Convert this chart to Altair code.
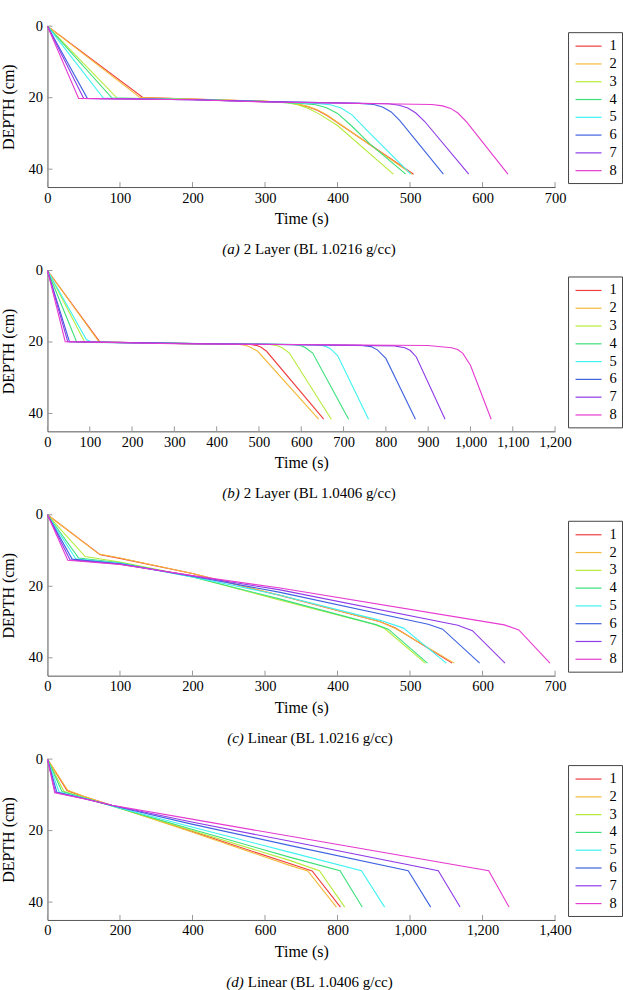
import altair as alt
import pandas as pd

SERIES = ["1", "2", "3", "4", "5", "6", "7", "8"]
COLORS = ["#f03c3c", "#f5b93a", "#b5eb3a", "#3ae07a", "#3ef2f2", "#3f63e0", "#8f3ae8", "#e63ad0"]

# panel (a): 2 Layer (BL 1.0216 g/cc) -- series: (time s, depth cm)
A = {
    "1": ([0, 132, 200, 300, 330, 345, 360, 372, 385, 505], [0, 20, 20.4, 21, 21.3, 21.8, 22.6, 23.5, 24.9, 41.4]),
    "2": ([0, 128, 200, 300, 330, 345, 360, 372, 385, 503], [0, 20, 20.4, 21, 21.3, 21.8, 22.5, 23.4, 24.8, 41.4]),
    "3": ([0, 96, 200, 300, 330, 345, 360, 375, 400, 477], [0, 20.1, 20.5, 21, 21.4, 22, 23, 24.6, 27.8, 41.4]),
    "4": ([0, 89, 200, 300, 350, 370, 385, 400, 420, 445, 494], [0, 20.1, 20.5, 21.1, 21.6, 22, 22.8, 24.4, 28, 33, 41.4]),
    "5": ([0, 77, 200, 300, 370, 390, 405, 420, 440, 501], [0, 20.1, 20.5, 21.1, 21.6, 22, 22.9, 24.8, 29, 41.4]),
    "6": ([0, 55, 200, 300, 430, 450, 462, 474, 486, 546], [0, 20.2, 20.6, 21.1, 21.6, 21.9, 22.6, 24, 26.4, 41.4]),
    "7": ([0, 50, 200, 300, 470, 485, 497, 508, 520, 581], [0, 20.2, 20.6, 21.1, 21.7, 22.1, 22.9, 24.3, 26.6, 41.4]),
    "8": ([0, 43, 200, 300, 530, 545, 556, 566, 578, 635], [0, 20.2, 20.6, 21.2, 21.9, 22.3, 23, 24.3, 26.8, 41.4]),
}

# panel (b): 2 Layer (BL 1.0406 g/cc)
B = {
    "1": ([0, 124, 300, 480, 495, 505, 518, 653], [0, 20, 20.4, 20.7, 21.0, 21.5, 22.6, 41.6]),
    "2": ([0, 122, 300, 455, 470, 482, 497, 641], [0, 20, 20.4, 20.7, 21.0, 21.6, 22.6, 41.6]),
    "3": ([0, 88, 300, 525, 542, 555, 572, 671], [0, 20, 20.4, 20.7, 21.0, 21.6, 23.1, 41.6]),
    "4": ([0, 69, 300, 580, 598, 610, 627, 712], [0, 20, 20.4, 20.7, 21.0, 21.6, 23.1, 41.6]),
    "5": ([0, 92, 105, 300, 635, 655, 668, 686, 759], [0, 19.3, 20.1, 20.4, 20.8, 21.1, 21.8, 23.8, 41.6]),
    "6": ([0, 52, 300, 740, 765, 780, 800, 870], [0, 19.9, 20.4, 20.9, 21.3, 22.2, 24.6, 41.6]),
    "7": ([0, 48, 300, 820, 845, 858, 872, 940], [0, 19.9, 20.4, 21.1, 21.6, 22.4, 24.2, 41.6]),
    "8": ([0, 42, 300, 900, 955, 970, 982, 1000, 1049], [0, 19.9, 20.5, 21, 21.6, 22.1, 23.2, 26.5, 41.6]),
}

# panel (c): Linear (BL 1.0216 g/cc)
C = {
    "1": ([0, 73, 100, 200, 321, 459, 480, 558], [0, 11.2, 12.2, 16.4, 22.6, 29.9, 31.7, 41.5]),
    "2": ([0, 71, 100, 200, 321, 459, 480, 561], [0, 11.0, 12.1, 16.4, 22.5, 29.9, 31.8, 41.5]),
    "3": ([0, 52, 100, 200, 321, 450, 465, 521], [0, 11.7, 13.2, 17.3, 23.9, 30.6, 31.8, 41.5]),
    "4": ([0, 43, 100, 200, 321, 454, 470, 524], [0, 12.1, 13.4, 17.4, 23.6, 30.8, 32, 41.5]),
    "5": ([0, 39, 100, 200, 321, 460, 491, 550], [0, 12.3, 13.6, 17.4, 22.5, 29.6, 31.7, 41.5]),
    "6": ([0, 34, 100, 200, 321, 525, 545, 596], [0, 12.4, 13.7, 17.2, 21.7, 30.6, 32.0, 41.5]),
    "7": ([0, 31, 100, 200, 321, 566, 586, 631], [0, 12.6, 13.8, 17.1, 21.0, 30.9, 32.4, 41.5]),
    "8": ([0, 28, 100, 200, 321, 630, 650, 693], [0, 12.7, 13.9, 17.0, 20.5, 30.8, 32.2, 41.5]),
}

# panel (d): Linear (BL 1.0406 g/cc)
D = {
    "1": ([0, 54, 100, 178, 398, 670, 730, 808], [0, 8.8, 10.5, 13.0, 20.2, 29.3, 31.3, 41.4]),
    "2": ([0, 56, 100, 178, 398, 670, 718, 797], [0, 8.7, 10.4, 13.0, 20.4, 29.8, 31.3, 41.4]),
    "3": ([0, 45, 100, 178, 398, 670, 750, 820], [0, 9.0, 10.7, 13.1, 20.0, 28.4, 31.2, 41.4]),
    "4": ([0, 40, 100, 178, 398, 670, 807, 868], [0, 9.1, 10.8, 13.1, 19.6, 27.5, 31.2, 41.4]),
    "5": ([0, 32, 100, 178, 398, 670, 866, 930], [0, 9.2, 10.9, 13.1, 19.0, 26.1, 31.2, 41.4]),
    "6": ([0, 26, 100, 178, 398, 670, 995, 1057], [0, 9.3, 11.0, 13.0, 18.2, 24.2, 31.2, 41.4]),
    "7": ([0, 22, 100, 178, 398, 670, 1078, 1138], [0, 9.3, 11.0, 12.9, 17.6, 23.0, 31.2, 41.4]),
    "8": ([0, 20, 100, 178, 398, 670, 1217, 1273], [0, 9.4, 11.1, 12.9, 16.8, 21.6, 31.2, 41.4]),
}

TAGS = ["(a)", "(b)", "(c)", "(d)"]
CAPTIONS = ["2 Layer (BL 1.0216 g/cc)", "2 Layer (BL 1.0406 g/cc)",
            "Linear (BL 1.0216 g/cc)", "Linear (BL 1.0406 g/cc)"]
X_MAX = [700, 1200, 700, 1400]
X_TICKS = [list(range(0, 701, 100)), list(range(0, 1201, 100)),
           list(range(0, 701, 100)), list(range(0, 1401, 200))]
Y_TICKS = [0, 20, 40]
Y_MAX = 45

FONT = "Liberation Serif"
W, H = 508, 161
CAP_ANCHOR = [194.5, 194.5, 198.5, 198.5]

AXIS_STYLE = dict(
    grid=False, ticks=False, tickSize=0, domainColor="#555", domainWidth=1,
    labelFont=FONT, labelFontSize=14.5, labelColor="black", labelOverlap=False,
    labelFlush=False, titleFont=FONT, titleFontSize=16, titleFontWeight="normal",
    titleColor="black",
)


def panel(data, xmax, xticks, tag, caption, anchor):
    rows = []
    for s in SERIES:
        ts, ds = data[s]
        for t, d in zip(ts, ds):
            rows.append({"series": s, "t": t, "d": d})
    df = pd.DataFrame(rows)

    xscale = alt.Scale(domain=[0, xmax], nice=False, zero=True)
    yscale = alt.Scale(domain=[0, Y_MAX], reverse=True, nice=False)
    xaxis = alt.Axis(values=xticks, format=",d", title="Time (s)",
                     labelPadding=4, titlePadding=6, **AXIS_STYLE)
    yaxis = alt.Axis(values=Y_TICKS, title="DEPTH (cm)",
                     labelPadding=5, titlePadding=11, **AXIS_STYLE)

    lines = alt.Chart(df).mark_line(strokeWidth=1.1).encode(
        x=alt.X("t:Q", scale=xscale, axis=xaxis),
        y=alt.Y("d:Q", scale=yscale, axis=yaxis),
        color=alt.Color(
            "series:N",
            scale=alt.Scale(domain=SERIES, range=COLORS),
            legend=alt.Legend(
                title=None, orient="none", legendX=521, legendY=6,
                strokeColor="#444", fillColor="white", padding=5,
                symbolType="M-1.625,0H1.625", symbolSize=256,
                symbolStrokeWidth=1.2, symbolOffset=6.5, labelOffset=12,
                labelFont=FONT, labelFontSize=14.5, labelColor="black",
                rowPadding=1.8, cornerRadius=0,
            ),
        ),
    )

    xt = alt.Chart(pd.DataFrame({"t": xticks})).mark_rule(color="#999", strokeWidth=1).encode(
        x=alt.X("t:Q", scale=xscale, axis=xaxis),
        y=alt.value(H), y2=alt.value(H - 5),
    )
    yt = alt.Chart(pd.DataFrame({"d": Y_TICKS})).mark_rule(color="#999", strokeWidth=1).encode(
        y=alt.Y("d:Q", scale=yscale, axis=yaxis),
        x=alt.value(0), x2=alt.value(5),
    )
    capdf = pd.DataFrame({"tag": [tag], "cap": [caption]})
    cap1 = alt.Chart(capdf).mark_text(
        align="right", baseline="middle", font=FONT, fontSize=15,
        fontStyle="italic", color="black", dx=-2,
    ).encode(text="tag:N", x=alt.value(anchor), y=alt.value(223))
    cap2 = alt.Chart(capdf).mark_text(
        align="left", baseline="middle", font=FONT, fontSize=15,
        color="black", dx=2,
    ).encode(text="cap:N", x=alt.value(anchor), y=alt.value(223))

    return alt.layer(lines, xt, yt, cap1, cap2).properties(width=W, height=H)


panels = [
    panel(d, xm, xtk, tg, cp, an)
    for d, xm, xtk, tg, cp, an in zip([A, B, C, D], X_MAX, X_TICKS, TAGS, CAPTIONS, CAP_ANCHOR)
]

chart = alt.vconcat(*panels, spacing=83.5, bounds="flush").resolve_scale(
    x="independent", y="independent", color="independent"
).resolve_legend(color="independent").properties(
    padding={"left": 0.5, "top": 17.8, "right": 0, "bottom": 0}
).configure_view(stroke=None)

chart.save("out.html", embed_options={"renderer": "svg", "actions": False})
